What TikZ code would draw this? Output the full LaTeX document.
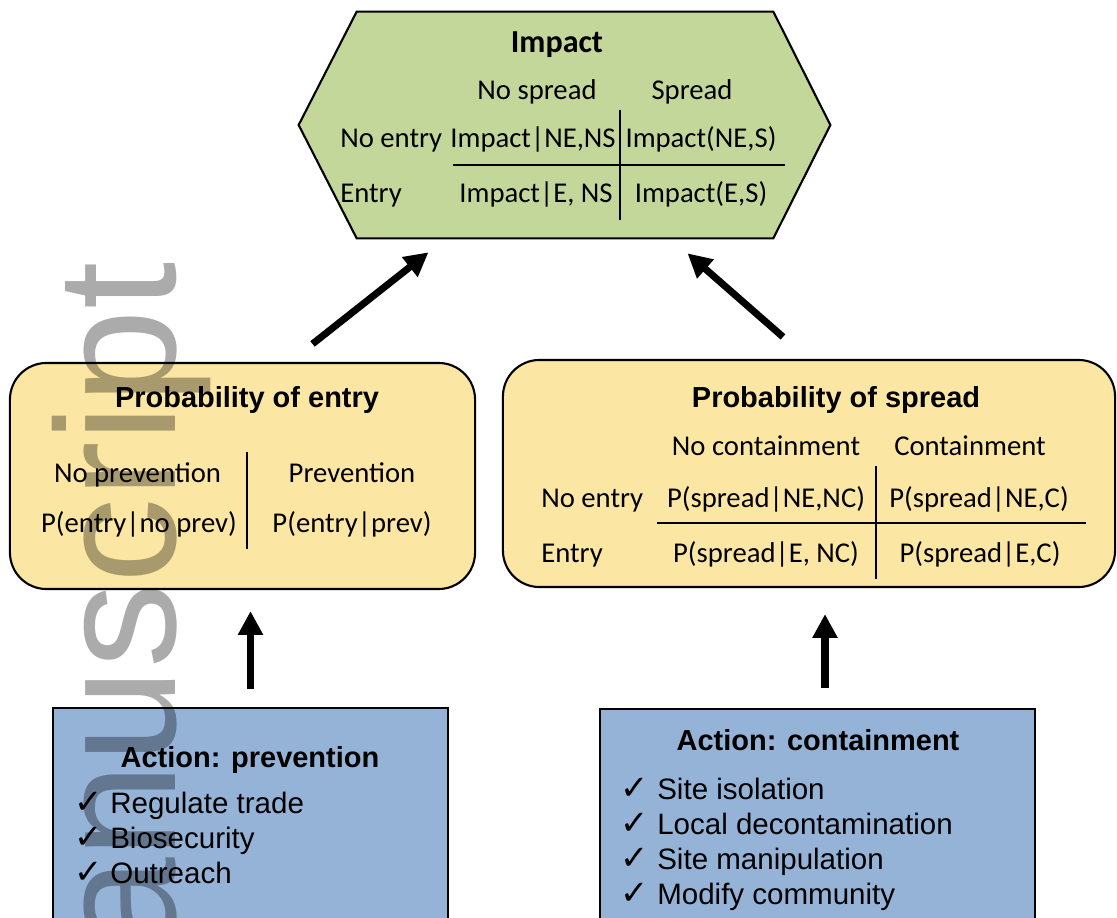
\documentclass[tikz,border=0pt]{standalone}
\usepackage{fontspec}
\setmainfont{Carlito}
\newfontfamily\arialfont{Liberation Sans}
\newfontfamily\checkfont{DejaVu Sans}
\usetikzlibrary{calc,arrows.meta}
\definecolor{impactgreen}{HTML}{C4D79B}
\definecolor{probyellow}{HTML}{FBE7A3}
\definecolor{actionblue}{HTML}{95B3D7}
\newcommand{\cellsize}{\fontsize{20.4}{24}\selectfont}
\newcommand{\titlesize}{\fontsize{20.6}{24}\selectfont}

\begin{document}
\begin{tikzpicture}[x=0.025cm,y=-0.025cm,
  cell/.style={anchor=base,inner sep=0pt,font=\cellsize},
  rowlabel/.style={anchor=base west,inner sep=0pt,font=\cellsize},
  hextitle/.style={anchor=base,inner sep=0pt,font=\bfseries\fontsize{22.8}{26}\selectfont},
  boxtitle/.style={anchor=base,inner sep=0pt,font=\arialfont\bfseries\titlesize},
  item/.style={anchor=base west,inner sep=0pt,font=\arialfont\fontsize{21}{25}\selectfont},
  tick/.style={anchor=base west,inner sep=0pt,font=\checkfont\fontsize{24}{28}\selectfont},
  probbox/.style={draw,line width=1.5pt,fill=probyellow,rounded corners=26pt,inner sep=0pt},
  actbox/.style={draw,line width=1.5pt,fill=actionblue,inner sep=0pt},
  bigarrow/.style={line width=5pt,-{Triangle[length=17pt,width=17pt]}},
  grid/.style={line width=1.5pt}]
            \useasboundingbox (0,0) rectangle (1117,918);

            % impact hexagon
            \node (impact) [minimum width=13.275cm,minimum height=5.65cm,inner sep=0pt] at (564.5,125) {};
            \filldraw[fill=impactgreen,line width=1.5pt] (impact.west) -- ($(impact.north west)+(58,0)$)
                -- ($(impact.north east)+(-57,0)$) -- (impact.east) -- ($(impact.south east)+(-57,0)$)
                -- ($(impact.south west)+(58,0)$) -- cycle;
            \node (imptitle) [hextitle] at (557,53) {Impact};
            \node (nospread) [cell] at (537,100) {No spread};
            \node (spread) [cell] at (692,100) {Spread};
            \node (noentryA) [rowlabel] at (340,148) {No entry};
            \node (impNENS) [cell] at (533,148) {Impact|NE,NS};
            \node (impNES) [cell] at (701,148) {Impact(NE,S)};
            \node (entryA) [rowlabel] at (340,203) {Entry};
            \node (impENS) [cell] at (536,203) {Impact|E, NS};
            \node (impES) [cell] at (701,203) {Impact(E,S)};
            \draw[grid] (620,110) -- (620,220);
            \draw[grid] (453,165) -- (785,165);

            % probability of entry
            \node (pentry) [probbox,minimum width=11.625cm,minimum height=5.65cm] at (242.5,476) {};
            \node (pentrytitle) [boxtitle] at (247,408) {Probability of entry};
            \node (noprev) [cell] at (137.5,482) {No prevention};
            \node (prev) [cell] at (352,482) {Prevention};
            \node (pnoprev) [cell] at (139,532) {P(entry|no prev)};
            \node (pprev) [cell] at (352,532) {P(entry|prev)};
            \draw[grid] (247,452) -- (247,549);

            % probability of spread
            \node (pspread) [probbox,minimum width=15.3cm,minimum height=5.675cm] at (809,473.5) {};
            \node (pspreadtitle) [boxtitle] at (836,408) {Probability of spread};
            \node (nocont) [cell] at (766,455) {No containment};
            \node (cont) [cell] at (970,455) {Containment};
            \node (noentryB) [rowlabel] at (541,507) {No entry};
            \node (pNENC) [cell] at (766,507) {P(spread|NE,NC)};
            \node (pNEC) [cell] at (979,507) {P(spread|NE,C)};
            \node (entryB) [rowlabel] at (541,562) {Entry};
            \node (pENC) [cell] at (766,562) {P(spread|E, NC)};
            \node (pEC) [cell] at (980,562) {P(spread|E,C)};
            \draw[grid] (876,466) -- (876,579);
            \draw[grid] (657,523) -- (1086,523);

            % actions
            \node (actprev) [actbox,minimum width=9.875cm,minimum height=6cm] at (250.5,828) {};
            \node (actprevtitle) [boxtitle] at (250,767) {Action: prevention};
            \node (tickA1) [tick] at (74,813) {✓};
            \node (tickA2) [tick] at (74,848) {✓};
            \node (tickA3) [tick] at (74,883) {✓};
            \node (trade) [item] at (110,813) {Regulate trade};
            \node (biosec) [item] at (110,848) {Biosecurity};
            \node (outreach) [item] at (110,883) {Outreach};

            \node (actcont) [actbox,minimum width=10.875cm,minimum height=6cm] at (817.5,829) {};
            \node (actconttitle) [boxtitle] at (818,750) {Action: containment};
            \node (tickB1) [tick] at (620,799) {✓};
            \node (tickB2) [tick] at (620,834) {✓};
            \node (tickB3) [tick] at (620,869) {✓};
            \node (tickB4) [tick] at (620,904) {✓};
            \node (isolation) [item] at (657,799) {Site isolation};
            \node (decont) [item] at (657,834) {Local decontamination};
            \node (manip) [item] at (657,869) {Site manipulation};
            \node (community) [item] at (657,904) {Modify community};

            % arrows
            \draw[bigarrow] ($(pentry.north)+(70,-18)$) -- ($(impact.south)+(-136,14)$);
            \draw[bigarrow] ($(pspread.north)+(-26,-22)$) -- ($(impact.south)+(123,15)$);
            \draw[bigarrow] ($(actprev.north)+(0,-18)$) -- ($(actprev.north |- pentry.south)+(0,21)$);
            \draw[bigarrow] ($(actcont.north)+(7.5,-20)$) -- ($(actcont.north |- pspread.south)+(7.5,26)$);

            % watermark
            \node (watermark) [rotate=90,anchor=base east,inner sep=0pt,text=black,text opacity=0.33,
                font=\arialfont\fontsize{121}{140}\selectfont] at (175,262) {anuscript};
        \end{tikzpicture}
\end{document}
